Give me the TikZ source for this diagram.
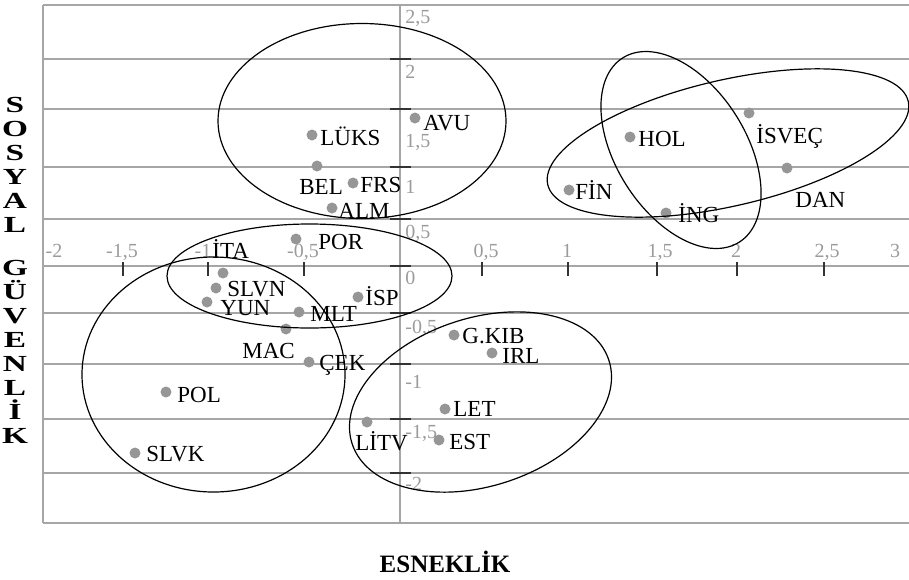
\documentclass[tikz,border=0pt]{standalone}
\usepackage{fontspec}
\setmainfont{Liberation Serif}
\newfontfamily\widetitle[FakeStretch=1.45]{Liberation Serif}
\definecolor{gridgray}{RGB}{166,166,166}
\definecolor{dotgray}{RGB}{150,150,150}
\definecolor{numgray}{RGB}{155,155,155}
\tikzset{
  gridline/.style={draw=gridgray, line width=0.75pt},
  tickmark/.style={draw=black!80, line width=0.75pt},
  group/.style={draw=black, line width=0.6pt},
  datapt/.style={circle, fill=dotgray, inner sep=0pt, minimum size=5.5pt},
  country/.style={anchor=base west, inner sep=0pt, font=\fontsize{11.5}{13}\selectfont},
  xnum/.style={anchor=base, inner sep=0pt, text=numgray, font=\fontsize{10}{12}\selectfont},
  ynum/.style={anchor=base west, inner sep=0pt, text=numgray, font=\fontsize{10}{12}\selectfont}
}
\begin{document}
\begin{tikzpicture}[x=0.5pt, y=-0.5pt]
	\useasboundingbox (0,0) rectangle (909,579);

	% horizontal grid lines
	\draw[gridline] (43,5) -- (909,5);
	\draw[gridline] (43,59) -- (909,59);
	\draw[gridline] (43,109) -- (909,109);
	\draw[gridline] (43,167) -- (909,167);
	\draw[gridline] (43,219) -- (909,219);
	\draw[gridline] (43,313) -- (909,313);
	\draw[gridline] (43,364) -- (909,364);
	\draw[gridline] (43,419) -- (909,419);
	\draw[gridline] (43,473) -- (909,473);
	\draw[gridline] (43,523) -- (909,523);
	\draw[gridline] (43,5) -- (43,523);

	% axes
	\draw[gridline] (43,266) -- (909,266);
	\draw[gridline] (400,5) -- (400,523);

	% ticks on the vertical axis
	\draw[tickmark] (390,59) -- (411,59);
	\draw[tickmark] (390,109) -- (411,109);
	\draw[tickmark] (390,167) -- (411,167);
	\draw[tickmark] (390,219) -- (411,219);
	\draw[tickmark] (390,266) -- (411,266);
	\draw[tickmark] (390,313) -- (411,313);
	\draw[tickmark] (390,364) -- (411,364);
	\draw[tickmark] (390,419) -- (411,419);
	\draw[tickmark] (390,473) -- (411,473);

	% ticks on the horizontal axis
	\draw[tickmark] (123,262) -- (123,276);
	\draw[tickmark] (208,262) -- (208,276);
	\draw[tickmark] (304,262) -- (304,276);
	\draw[tickmark] (482,262) -- (482,276);
	\draw[tickmark] (568,262) -- (568,276);
	\draw[tickmark] (657,262) -- (657,276);
	\draw[tickmark] (737,262) -- (737,276);
	\draw[tickmark] (824,262) -- (824,276);

	% axis numbers
	\node[xnum] (xm20) at (54,257) {-2};
	\node[xnum] (xm15) at (122,257) {-1,5};
	\node[xnum] (xm10) at (203,257) {-1};
	\node[xnum] (xm05) at (303,257) {-0,5};
	\node[xnum] (xp05) at (486,257) {0,5};
	\node[xnum] (xp10) at (567,257) {1};
	\node[xnum] (xp15) at (660,257) {1,5};
	\node[xnum] (xp20) at (736,257) {2};
	\node[xnum] (xp25) at (827,257) {2,5};
	\node[xnum] (xp30) at (895,257) {3};
	\node[ynum] (yp25) at (405,23) {2,5};
	\node[ynum] (yp20) at (405,78) {2};
	\node[ynum] (yp15) at (405,147) {1,5};
	\node[ynum] (yp10) at (405,193) {1};
	\node[ynum] (yp05) at (405,238) {0,5};
	\node[ynum] (y00) at (405,284) {0};
	\node[ynum] (ym05) at (405,333) {-0,5};
	\node[ynum] (ym10) at (405,388) {-1};
	\node[ynum] (ym15) at (405,438) {-1,5};
	\node[ynum] (ym20) at (405,490) {-2};

	% axis titles
	\node[anchor=north, inner sep=0pt, align=center, font=\widetitle\bfseries\fontsize{11.5}{12}\selectfont] (ytitle) at (15,97)
		{S\\O\\S\\Y\\A\\L\\[9.5pt]G\\Ü\\V\\E\\N\\L\\İ\\K};
	\node[anchor=base, inner sep=0pt, font=\bfseries\fontsize{12.5}{15}\selectfont] (xtitle) at (445,572) {ESNEKLİK};

	% countries
	\node[datapt] (avu) at (415,118) {};
	\node[country] (avu-l) at (423,130) {AVU};
	\node[datapt] (luks) at (312,135) {};
	\node[country] (luks-l) at (320,145) {LÜKS};
	\node[datapt] (bel) at (317,166) {};
	\node[country] (bel-l) at (299,194) {BEL};
	\node[datapt] (frs) at (353,183) {};
	\node[country] (frs-l) at (360,192) {FRS};
	\node[datapt] (alm) at (332,208) {};
	\node[country] (alm-l) at (338,218) {ALM};
	\node[datapt] (por) at (296,239) {};
	\node[country] (por-l) at (318,249) {POR};
	\node[datapt] (ita) at (223,273) {};
	\node[country] (ita-l) at (212,258) {İTA};
	\node[datapt] (slvn) at (216,288) {};
	\node[country] (slvn-l) at (227,296) {SLVN};
	\node[datapt] (yun) at (207,302) {};
	\node[country] (yun-l) at (220,315) {YUN};
	\node[datapt] (mlt) at (299,312) {};
	\node[country] (mlt-l) at (310,321) {MLT};
	\node[datapt] (isp) at (358,297) {};
	\node[country] (isp-l) at (365,305) {İSP};
	\node[datapt] (mac) at (286,329) {};
	\node[country] (mac-l) at (242,358) {MAC};
	\node[datapt] (cek) at (309,362) {};
	\node[country] (cek-l) at (319,370) {ÇEK};
	\node[datapt] (pol) at (166,392) {};
	\node[country] (pol-l) at (177,402) {POL};
	\node[datapt] (slvk) at (135,453) {};
	\node[country] (slvk-l) at (146,461) {SLVK};
	\node[datapt] (litv) at (367,422) {};
	\node[country] (litv-l) at (355,450) {LİTV};
	\node[datapt] (gkib) at (454,335) {};
	\node[country] (gkib-l) at (462,343) {G.KIB};
	\node[datapt] (irl) at (492,353) {};
	\node[country] (irl-l) at (502,363) {IRL};
	\node[datapt] (let) at (445,409) {};
	\node[country] (let-l) at (453,416) {LET};
	\node[datapt] (est) at (439,440) {};
	\node[country] (est-l) at (449,449) {EST};
	\node[datapt] (hol) at (630,137) {};
	\node[country] (hol-l) at (638,146) {HOL};
	\node[datapt] (isvec) at (749,113) {};
	\node[country] (isvec-l) at (756,143) {İSVEÇ};
	\node[datapt] (dan) at (787,168) {};
	\node[country] (dan-l) at (795,207) {DAN};
	\node[datapt] (fin) at (569,190) {};
	\node[country] (fin-l) at (575,199) {FİN};
	\node[datapt] (ing) at (666,213) {};
	\node[country] (ing-l) at (678,222) {İNG};

	% groups
	\draw[group] (362,121) ellipse [x radius=144, y radius=97.5];
	\draw[group] (309.5,276) ellipse [x radius=142.5, y radius=52];
	\draw[group] (213.5,374.5) ellipse [x radius=131.5, y radius=117.5];
	\draw[group, rotate around={18:(480.5,402)}] (480.5,402) ellipse [x radius=135, y radius=84];
	\draw[group, rotate around={-57.7:(681,150)}] (681,150) ellipse [x radius=109, y radius=65];
	\draw[group, rotate around={13:(728,143)}] (728,143) ellipse [x radius=185, y radius=63];
\end{tikzpicture}
\end{document}
